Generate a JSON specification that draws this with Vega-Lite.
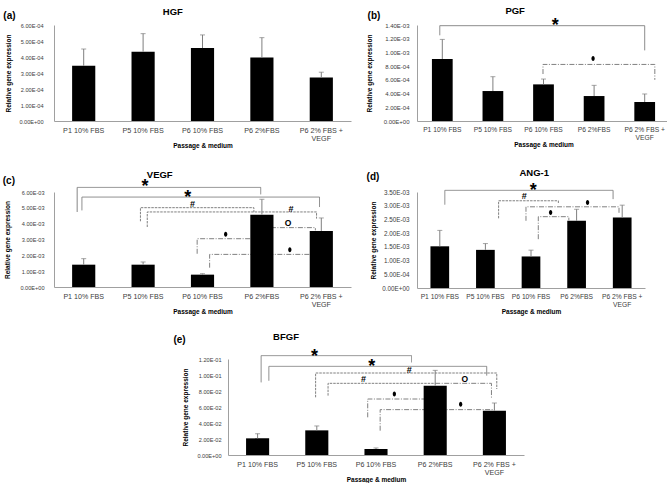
{
"$schema": "https://vega.github.io/schema/vega-lite/v6.json",
"padding": {"left": 2, "top": 5, "right": 0, "bottom": 0},
"background": "#ffffff",
"config": {
 "view": {"stroke": null},
 "font": "Liberation Sans",
 "axis": {"domainColor": "#a0a0a0", "ticks": false, "grid": false, "labelOverlap": false, "labelColor": "#404040", "titleColor": "#000000", "titleFontWeight": "bold", "titleFontSize": 6.5, "labelFont": "Liberation Sans", "titleFont": "Liberation Sans"},
 "axisX": {"labelAngle": 0, "labelPadding": 5, "labelLineHeight": 8, "titlePadding": 1, "labelBaseline": "top"},
 "axisY": {"labelOverlap": false, "labelBound": false, "labelFlush": false, "tickCount": 20}
},
"datasets": {
 "bars": [
  {"panel": "a", "label": "P1 10% FBS", "value": 0.000345, "err": 0.00045},
  {"panel": "a", "label": "P5 10% FBS", "value": 0.000433, "err": 0.000546},
  {"panel": "a", "label": "P6 10% FBS", "value": 0.000456, "err": 0.000538},
  {"panel": "a", "label": "P6 2%FBS", "value": 0.000397, "err": 0.000521},
  {"panel": "a", "label": "P6 2% FBS + VEGF", "value": 0.000272, "err": 0.000305},
  {"panel": "b", "label": "P1 10% FBS", "value": 0.000904, "err": 0.00119},
  {"panel": "b", "label": "P5 10% FBS", "value": 0.000437, "err": 0.000646},
  {"panel": "b", "label": "P6 10% FBS", "value": 0.000534, "err": 0.000612},
  {"panel": "b", "label": "P6 2%FBS", "value": 0.000364, "err": 0.00052},
  {"panel": "b", "label": "P6 2% FBS + VEGF", "value": 0.000277, "err": 0.000394},
  {"panel": "c", "label": "P1 10% FBS", "value": 0.00141, "err": 0.00179},
  {"panel": "c", "label": "P5 10% FBS", "value": 0.00141, "err": 0.00158},
  {"panel": "c", "label": "P6 10% FBS", "value": 0.00078, "err": 0.00084},
  {"panel": "c", "label": "P6 2%FBS", "value": 0.00457, "err": 0.00554},
  {"panel": "c", "label": "P6 2% FBS + VEGF", "value": 0.00354, "err": 0.00436},
  {"panel": "d", "label": "P1 10% FBS", "value": 0.00152, "err": 0.0021},
  {"panel": "d", "label": "P5 10% FBS", "value": 0.00139, "err": 0.00162},
  {"panel": "d", "label": "P6 10% FBS", "value": 0.00115, "err": 0.00138},
  {"panel": "d", "label": "P6 2%FBS", "value": 0.00245, "err": 0.00287},
  {"panel": "d", "label": "P6 2% FBS + VEGF", "value": 0.00257, "err": 0.00302},
  {"panel": "e", "label": "P1 10% FBS", "value": 0.0208, "err": 0.0267},
  {"panel": "e", "label": "P5 10% FBS", "value": 0.0308, "err": 0.0363},
  {"panel": "e", "label": "P6 10% FBS", "value": 0.0075, "err": 0.0088},
  {"panel": "e", "label": "P6 2%FBS", "value": 0.0867, "err": 0.1058},
  {"panel": "e", "label": "P6 2% FBS + VEGF", "value": 0.0554, "err": 0.065}
 ],
 "brackets": [
  {"panel": "b", "id": "b1", "style": "solid", "o": 1, "x": 0.95, "y": 0.00125},
  {"panel": "b", "id": "b1", "style": "solid", "o": 2, "x": 0.95, "y": 0.00139},
  {"panel": "b", "id": "b1", "style": "solid", "o": 3, "x": 5.0, "y": 0.00139},
  {"panel": "b", "id": "b1", "style": "solid", "o": 4, "x": 5.0, "y": 0.00103},
  {"panel": "b", "id": "b2", "style": "dashdot", "o": 1, "x": 2.99, "y": 0.000685},
  {"panel": "b", "id": "b2", "style": "dashdot", "o": 2, "x": 2.99, "y": 0.000825},
  {"panel": "b", "id": "b2", "style": "dashdot", "o": 3, "x": 5.2, "y": 0.000825},
  {"panel": "b", "id": "b2", "style": "dashdot", "o": 4, "x": 5.2, "y": 0.0006},
  {"panel": "c", "id": "c1", "style": "solid", "o": 1, "x": 0.89, "y": 0.00474},
  {"panel": "c", "id": "c1", "style": "solid", "o": 2, "x": 0.89, "y": 0.00629},
  {"panel": "c", "id": "c1", "style": "solid", "o": 3, "x": 3.98, "y": 0.00629},
  {"panel": "c", "id": "c1", "style": "solid", "o": 4, "x": 3.98, "y": 0.00585},
  {"panel": "c", "id": "c2", "style": "solid", "o": 1, "x": 0.97, "y": 0.00484},
  {"panel": "c", "id": "c2", "style": "solid", "o": 2, "x": 0.97, "y": 0.00568},
  {"panel": "c", "id": "c2", "style": "solid", "o": 3, "x": 4.97, "y": 0.00568},
  {"panel": "c", "id": "c2", "style": "solid", "o": 4, "x": 4.97, "y": 0.00505},
  {"panel": "c", "id": "c3", "style": "dashed", "o": 1, "x": 1.955, "y": 0.00415},
  {"panel": "c", "id": "c3", "style": "dashed", "o": 2, "x": 1.955, "y": 0.00501},
  {"panel": "c", "id": "c3", "style": "dashed", "o": 3, "x": 3.865, "y": 0.00501},
  {"panel": "c", "id": "c3", "style": "dashed", "o": 4, "x": 3.865, "y": 0.00474},
  {"panel": "c", "id": "c4", "style": "dashed", "o": 1, "x": 2.07, "y": 0.00379},
  {"panel": "c", "id": "c4", "style": "dashed", "o": 2, "x": 2.07, "y": 0.00474},
  {"panel": "c", "id": "c4", "style": "dashed", "o": 3, "x": 4.92, "y": 0.00474},
  {"panel": "c", "id": "c4", "style": "dashed", "o": 4, "x": 4.92, "y": 0.00432},
  {"panel": "c", "id": "c5", "style": "dashdot", "o": 1, "x": 4.0, "y": 0.00375},
  {"panel": "c", "id": "c5", "style": "dashdot", "o": 2, "x": 4.9, "y": 0.00375},
  {"panel": "c", "id": "c5", "style": "dashdot", "o": 3, "x": 4.9, "y": 0.00358},
  {"panel": "c", "id": "c6", "style": "dashdot", "o": 1, "x": 2.91, "y": 0.0021},
  {"panel": "c", "id": "c6", "style": "dashdot", "o": 2, "x": 2.91, "y": 0.00305},
  {"panel": "c", "id": "c6", "style": "dashdot", "o": 3, "x": 4.0, "y": 0.00305},
  {"panel": "c", "id": "c7", "style": "dashdot", "o": 1, "x": 3.12, "y": 0.00122},
  {"panel": "c", "id": "c7", "style": "dashdot", "o": 2, "x": 3.12, "y": 0.00206},
  {"panel": "c", "id": "c7", "style": "dashdot", "o": 3, "x": 5.0, "y": 0.00206},
  {"panel": "d", "id": "d1", "style": "solid", "o": 1, "x": 1.11, "y": 0.00304},
  {"panel": "d", "id": "d1", "style": "solid", "o": 2, "x": 1.11, "y": 0.00356},
  {"panel": "d", "id": "d1", "style": "solid", "o": 3, "x": 4.8, "y": 0.00356},
  {"panel": "d", "id": "d1", "style": "solid", "o": 4, "x": 4.8, "y": 0.00324},
  {"panel": "d", "id": "d2", "style": "dashed", "o": 1, "x": 2.29, "y": 0.00254},
  {"panel": "d", "id": "d2", "style": "dashed", "o": 2, "x": 2.29, "y": 0.00318},
  {"panel": "d", "id": "d2", "style": "dashed", "o": 3, "x": 3.6, "y": 0.00318},
  {"panel": "d", "id": "d2", "style": "dashed", "o": 4, "x": 3.6, "y": 0.00306},
  {"panel": "d", "id": "d3", "style": "dashdot", "o": 1, "x": 2.89, "y": 0.00245},
  {"panel": "d", "id": "d3", "style": "dashdot", "o": 2, "x": 2.89, "y": 0.00296},
  {"panel": "d", "id": "d3", "style": "dashdot", "o": 3, "x": 4.93, "y": 0.00296},
  {"panel": "d", "id": "d3", "style": "dashdot", "o": 4, "x": 4.93, "y": 0.00272},
  {"panel": "d", "id": "d4", "style": "dashdot", "o": 1, "x": 3.16, "y": 0.00178},
  {"panel": "d", "id": "d4", "style": "dashdot", "o": 2, "x": 3.16, "y": 0.0026},
  {"panel": "d", "id": "d4", "style": "dashdot", "o": 3, "x": 3.83, "y": 0.0026},
  {"panel": "d", "id": "d4", "style": "dashdot", "o": 4, "x": 3.83, "y": 0.00247},
  {"panel": "e", "id": "e1", "style": "solid", "o": 1, "x": 1.06, "y": 0.0908},
  {"panel": "e", "id": "e1", "style": "solid", "o": 2, "x": 1.06, "y": 0.1242},
  {"panel": "e", "id": "e1", "style": "solid", "o": 3, "x": 3.6, "y": 0.1242},
  {"panel": "e", "id": "e1", "style": "solid", "o": 4, "x": 3.6, "y": 0.1158},
  {"panel": "e", "id": "e2", "style": "solid", "o": 1, "x": 1.19, "y": 0.0929},
  {"panel": "e", "id": "e2", "style": "solid", "o": 2, "x": 1.19, "y": 0.1108},
  {"panel": "e", "id": "e2", "style": "solid", "o": 3, "x": 4.87, "y": 0.1108},
  {"panel": "e", "id": "e2", "style": "solid", "o": 4, "x": 4.87, "y": 0.0992},
  {"panel": "e", "id": "e3", "style": "dashed", "o": 1, "x": 1.98, "y": 0.0721},
  {"panel": "e", "id": "e3", "style": "dashed", "o": 2, "x": 1.98, "y": 0.1025},
  {"panel": "e", "id": "e3", "style": "dashed", "o": 3, "x": 5.04, "y": 0.1025},
  {"panel": "e", "id": "e3", "style": "dashed", "o": 4, "x": 5.04, "y": 0.0825},
  {"panel": "e", "id": "e4", "style": "dashed", "o": 1, "x": 2.19, "y": 0.0742},
  {"panel": "e", "id": "e4", "style": "dashed", "o": 2, "x": 2.19, "y": 0.0896},
  {"panel": "e", "id": "e4", "style": "dashed", "o": 3, "x": 4.0, "y": 0.0896},
  {"panel": "e", "id": "e5", "style": "dashdot", "o": 1, "x": 4.0, "y": 0.0896},
  {"panel": "e", "id": "e5", "style": "dashdot", "o": 2, "x": 4.95, "y": 0.0896},
  {"panel": "e", "id": "e5", "style": "dashdot", "o": 3, "x": 4.95, "y": 0.07},
  {"panel": "e", "id": "e6", "style": "dashdot", "o": 1, "x": 2.86, "y": 0.0471},
  {"panel": "e", "id": "e6", "style": "dashdot", "o": 2, "x": 2.86, "y": 0.07},
  {"panel": "e", "id": "e6", "style": "dashdot", "o": 3, "x": 4.0, "y": 0.07},
  {"panel": "e", "id": "e7", "style": "dashdot", "o": 1, "x": 3.07, "y": 0.0304},
  {"panel": "e", "id": "e7", "style": "dashdot", "o": 2, "x": 3.07, "y": 0.0567},
  {"panel": "e", "id": "e7", "style": "dashdot", "o": 3, "x": 5.0, "y": 0.0567}
 ],
 "notes": [
  {"panel": "a", "kind": "letter", "text": "(a)", "x": -0.25, "y": 0.000655},
  {"panel": "a", "kind": "title", "text": "HGF", "x": 2.5, "y": 0.000679},
  {"panel": "b", "kind": "letter", "text": "(b)", "x": -0.35, "y": 0.001531},
  {"panel": "b", "kind": "title", "text": "PGF", "x": 2.44, "y": 0.001608},
  {"panel": "b", "kind": "star", "text": "*", "x": 3.23, "y": 0.001458},
  {"panel": "c", "kind": "letter", "text": "(c)", "x": -0.26, "y": 0.00668},
  {"panel": "c", "kind": "title", "text": "VEGF", "x": 2.28, "y": 0.00705},
  {"panel": "c", "kind": "star", "text": "*", "x": 2.03, "y": 0.00663},
  {"panel": "c", "kind": "star", "text": "*", "x": 2.75, "y": 0.00596},
  {"panel": "c", "kind": "hash", "text": "#", "x": 2.83, "y": 0.00522},
  {"panel": "c", "kind": "hash", "text": "#", "x": 4.49, "y": 0.00495},
  {"panel": "c", "kind": "circ", "text": "O", "x": 4.44, "y": 0.00404},
  {"panel": "d", "kind": "letter", "text": "(d)", "x": -0.465, "y": 0.00404},
  {"panel": "d", "kind": "title", "text": "ANG-1", "x": 3.07, "y": 0.00418},
  {"panel": "d", "kind": "star", "text": "*", "x": 3.05, "y": 0.00371},
  {"panel": "d", "kind": "hash", "text": "#", "x": 2.85, "y": 0.00335},
  {"panel": "e", "kind": "letter", "text": "(e)", "x": -0.318, "y": 0.144},
  {"panel": "e", "kind": "title", "text": "BFGF", "x": 1.48, "y": 0.1475},
  {"panel": "e", "kind": "star", "text": "*", "x": 1.96, "y": 0.129},
  {"panel": "e", "kind": "star", "text": "*", "x": 2.93, "y": 0.1158},
  {"panel": "e", "kind": "hash", "text": "#", "x": 3.56, "y": 0.1067},
  {"panel": "e", "kind": "hash", "text": "#", "x": 2.79, "y": 0.095},
  {"panel": "e", "kind": "circ", "text": "O", "x": 4.5, "y": 0.095}
 ],
 "dots": [
  {"panel": "b", "x": 3.98, "y": 0.000913},
  {"panel": "c", "x": 3.39, "y": 0.00333},
  {"panel": "c", "x": 4.47, "y": 0.00236},
  {"panel": "d", "x": 4.24, "y": 0.00312},
  {"panel": "d", "x": 3.43, "y": 0.00275},
  {"panel": "e", "x": 3.31, "y": 0.0763},
  {"panel": "e", "x": 4.43, "y": 0.0633}
 ]
},
"vconcat": [
 {"vconcat": [
  {"hconcat": [
   {"width": 297, "height": 96,
    "layer": [
     {"data": {"name": "bars"}, "transform": [{"filter": "datum.panel == 'a'"}],
      "encoding": {"x": {"field": "label", "type": "nominal", "sort": null, "scale": {"paddingInner": 0.61, "paddingOuter": 0.305}, "title": "Passage & medium", "axis": {"labelFontSize": 7.2, "labelExpr": "datum.label == 'P6 2% FBS + VEGF' ? ['P6 2% FBS +', 'VEGF'] : datum.label"}}},
      "layer": [
       {"mark": {"type": "bar", "color": "#000000"}, "encoding": {"y": {"field": "value", "type": "quantitative", "scale": {"domain": [0, 0.0006], "nice": false}, "title": "Relative gene expression", "axis": {"values": [0, 0.0001, 0.0002, 0.0003, 0.0004, 0.0005, 0.0006], "tickCount": 20, "labelOverlap": false, "labelExpr": "replace(upper(format(datum.value, '.2e')), regexp('E(?<s>[+-])(?<d>[0-9])$'), 'E$<s>0$<d>')", "labelFontSize": 5.6, "labelPadding": 11, "titlePadding": 7}}}},
       {"mark": {"type": "rule", "color": "#7f7f7f", "strokeWidth": 1}, "encoding": {"y": {"field": "value", "type": "quantitative", "scale": {"domain": [0, 0.0006], "nice": false}, "title": "Relative gene expression"}, "y2": {"field": "err"}}},
       {"mark": {"type": "tick", "orient": "horizontal", "size": 5, "thickness": 1, "color": "#7f7f7f"}, "encoding": {"y": {"field": "err", "type": "quantitative", "scale": {"domain": [0, 0.0006], "nice": false}, "title": "Relative gene expression"}}}
      ]},
     {"data": {"name": "notes"}, "transform": [{"filter": "datum.panel == 'a' && datum.kind != 'star'"}],
      "mark": {"type": "text", "fontWeight": "bold", "baseline": "middle", "align": "center", "clip": false, "color": "#000000"},
      "encoding": {"x": {"field": "x", "type": "quantitative", "scale": {"domain": [0.5, 5.5], "nice": false, "zero": false}, "axis": null},
       "y": {"field": "y", "type": "quantitative", "scale": {"domain": [0, 0.0006], "nice": false}, "title": "Relative gene expression"},
       "text": {"field": "text"},
       "size": {"field": "kind", "type": "ordinal", "scale": {"domain": ["letter", "title", "hash", "circ"], "range": [10, 8.5, 7, 9]}, "legend": null}}}
    ],
    "resolve": {"scale": {"x": "independent"}}},
   {"width": 253, "height": 96,
    "layer": [
     {"data": {"name": "brackets"}, "transform": [{"filter": "datum.panel == 'b'"}],
      "mark": {"type": "line", "clip": false, "strokeWidth": 1, "color": "#808080"},
      "encoding": {"x": {"field": "x", "type": "quantitative", "scale": {"domain": [0.5, 5.5], "nice": false, "zero": false}, "axis": null},
       "y": {"field": "y", "type": "quantitative", "scale": {"domain": [0, 0.0014], "nice": false}, "title": "Relative gene expression"},
       "detail": {"field": "id", "type": "nominal"}, "order": {"field": "o", "type": "quantitative"},
       "strokeDash": {"field": "style", "type": "nominal", "scale": {"domain": ["solid", "dashed", "dashdot"], "range": [[1, 0], [2.5, 1], [5, 1.5, 1, 1.5]]}, "legend": null}}},
     {"data": {"name": "bars"}, "transform": [{"filter": "datum.panel == 'b'"}],
      "encoding": {"x": {"field": "label", "type": "nominal", "sort": null, "scale": {"paddingInner": 0.59, "paddingOuter": 0.295}, "title": "Passage & medium", "axis": {"labelFontSize": 6.7, "labelExpr": "datum.label == 'P6 2% FBS + VEGF' ? ['P6 2% FBS +', 'VEGF'] : datum.label"}}},
      "layer": [
       {"mark": {"type": "bar", "color": "#000000"}, "encoding": {"y": {"field": "value", "type": "quantitative", "scale": {"domain": [0, 0.0014], "nice": false}, "title": "Relative gene expression", "axis": {"values": [0, 0.0002, 0.0004, 0.0006, 0.0008, 0.001, 0.0012, 0.0014], "tickCount": 20, "labelOverlap": false, "labelExpr": "replace(upper(format(datum.value, '.2e')), regexp('E(?<s>[+-])(?<d>[0-9])$'), 'E$<s>0$<d>')", "labelFontSize": 6, "labelPadding": 8, "titlePadding": 11}}}},
       {"mark": {"type": "rule", "color": "#7f7f7f", "strokeWidth": 1}, "encoding": {"y": {"field": "value", "type": "quantitative", "scale": {"domain": [0, 0.0014], "nice": false}, "title": "Relative gene expression"}, "y2": {"field": "err"}}},
       {"mark": {"type": "tick", "orient": "horizontal", "size": 5, "thickness": 1, "color": "#7f7f7f"}, "encoding": {"y": {"field": "err", "type": "quantitative", "scale": {"domain": [0, 0.0014], "nice": false}, "title": "Relative gene expression"}}}
      ]},
     {"data": {"name": "notes"}, "transform": [{"filter": "datum.panel == 'b' && datum.kind != 'star'"}],
      "mark": {"type": "text", "fontWeight": "bold", "baseline": "middle", "align": "center", "clip": false, "color": "#000000"},
      "encoding": {"x": {"field": "x", "type": "quantitative", "scale": {"domain": [0.5, 5.5], "nice": false, "zero": false}, "axis": null},
       "y": {"field": "y", "type": "quantitative", "scale": {"domain": [0, 0.0014], "nice": false}, "title": "Relative gene expression"},
       "text": {"field": "text"},
       "size": {"field": "kind", "type": "ordinal", "scale": {"domain": ["letter", "title", "hash", "circ"], "range": [10, 8.5, 7, 9]}, "legend": null}}},
     {"data": {"name": "notes"}, "transform": [{"filter": "datum.panel == 'b' && datum.kind == 'star'"}],
      "mark": {"type": "text", "fontWeight": "bold", "fontSize": 18, "dy": 5, "baseline": "middle", "align": "center", "clip": false, "color": "#000000"},
      "encoding": {"x": {"field": "x", "type": "quantitative", "scale": {"domain": [0.5, 5.5], "nice": false, "zero": false}, "axis": null},
       "y": {"field": "y", "type": "quantitative", "scale": {"domain": [0, 0.0014], "nice": false}, "title": "Relative gene expression"},
       "text": {"field": "text"}}},
     {"data": {"name": "dots"}, "transform": [{"filter": "datum.panel == 'b'"}],
      "mark": {"type": "point", "filled": true, "color": "#000000", "opacity": 1, "size": 25, "shape": "M0,-1A0.65,1,0,1,1,0,1A0.65,1,0,1,1,0,-1Z", "clip": false},
      "encoding": {"x": {"field": "x", "type": "quantitative", "scale": {"domain": [0.5, 5.5], "nice": false, "zero": false}, "axis": null},
       "y": {"field": "y", "type": "quantitative", "scale": {"domain": [0, 0.0014], "nice": false}, "title": "Relative gene expression"}}}
    ],
    "resolve": {"scale": {"x": "independent"}}}
  ], "bounds": "flush", "spacing": 66},
  {"hconcat": [
   {"width": 297, "height": 95,
    "layer": [
     {"data": {"name": "brackets"}, "transform": [{"filter": "datum.panel == 'c'"}],
      "mark": {"type": "line", "clip": false, "strokeWidth": 1, "color": "#808080"},
      "encoding": {"x": {"field": "x", "type": "quantitative", "scale": {"domain": [0.5, 5.5], "nice": false, "zero": false}, "axis": null},
       "y": {"field": "y", "type": "quantitative", "scale": {"domain": [0, 0.006], "nice": false}, "title": "Relative gene expression"},
       "detail": {"field": "id", "type": "nominal"}, "order": {"field": "o", "type": "quantitative"},
       "strokeDash": {"field": "style", "type": "nominal", "scale": {"domain": ["solid", "dashed", "dashdot"], "range": [[1, 0], [2.5, 1], [5, 1.5, 1, 1.5]]}, "legend": null}}},
     {"data": {"name": "bars"}, "transform": [{"filter": "datum.panel == 'c'"}],
      "encoding": {"x": {"field": "label", "type": "nominal", "sort": null, "scale": {"paddingInner": 0.61, "paddingOuter": 0.305}, "title": "Passage & medium", "axis": {"labelFontSize": 7.1, "labelExpr": "datum.label == 'P6 2% FBS + VEGF' ? ['P6 2% FBS +', 'VEGF'] : datum.label"}}},
      "layer": [
       {"mark": {"type": "bar", "color": "#000000"}, "encoding": {"y": {"field": "value", "type": "quantitative", "scale": {"domain": [0, 0.006], "nice": false}, "title": "Relative gene expression", "axis": {"values": [0, 0.001, 0.002, 0.003, 0.004, 0.005, 0.006], "tickCount": 20, "labelOverlap": false, "labelExpr": "replace(upper(format(datum.value, '.2e')), regexp('E(?<s>[+-])(?<d>[0-9])$'), 'E$<s>0$<d>')", "labelFontSize": 5.6, "labelPadding": 10, "titlePadding": 9}}}},
       {"mark": {"type": "rule", "color": "#7f7f7f", "strokeWidth": 1}, "encoding": {"y": {"field": "value", "type": "quantitative", "scale": {"domain": [0, 0.006], "nice": false}, "title": "Relative gene expression"}, "y2": {"field": "err"}}},
       {"mark": {"type": "tick", "orient": "horizontal", "size": 5, "thickness": 1, "color": "#7f7f7f"}, "encoding": {"y": {"field": "err", "type": "quantitative", "scale": {"domain": [0, 0.006], "nice": false}, "title": "Relative gene expression"}}}
      ]},
     {"data": {"name": "notes"}, "transform": [{"filter": "datum.panel == 'c' && datum.kind != 'star'"}],
      "mark": {"type": "text", "fontWeight": "bold", "baseline": "middle", "align": "center", "clip": false, "color": "#000000"},
      "encoding": {"x": {"field": "x", "type": "quantitative", "scale": {"domain": [0.5, 5.5], "nice": false, "zero": false}, "axis": null},
       "y": {"field": "y", "type": "quantitative", "scale": {"domain": [0, 0.006], "nice": false}, "title": "Relative gene expression"},
       "text": {"field": "text"},
       "size": {"field": "kind", "type": "ordinal", "scale": {"domain": ["letter", "title", "hash", "circ"], "range": [10, 8.5, 7, 9]}, "legend": null}}},
     {"data": {"name": "notes"}, "transform": [{"filter": "datum.panel == 'c' && datum.kind == 'star'"}],
      "mark": {"type": "text", "fontWeight": "bold", "fontSize": 18, "dy": 5, "baseline": "middle", "align": "center", "clip": false, "color": "#000000"},
      "encoding": {"x": {"field": "x", "type": "quantitative", "scale": {"domain": [0.5, 5.5], "nice": false, "zero": false}, "axis": null},
       "y": {"field": "y", "type": "quantitative", "scale": {"domain": [0, 0.006], "nice": false}, "title": "Relative gene expression"},
       "text": {"field": "text"}}},
     {"data": {"name": "dots"}, "transform": [{"filter": "datum.panel == 'c'"}],
      "mark": {"type": "point", "filled": true, "color": "#000000", "opacity": 1, "size": 25, "shape": "M0,-1A0.65,1,0,1,1,0,1A0.65,1,0,1,1,0,-1Z", "clip": false},
      "encoding": {"x": {"field": "x", "type": "quantitative", "scale": {"domain": [0.5, 5.5], "nice": false, "zero": false}, "axis": null},
       "y": {"field": "y", "type": "quantitative", "scale": {"domain": [0, 0.006], "nice": false}, "title": "Relative gene expression"}}}
    ],
    "resolve": {"scale": {"x": "independent"}}},
   {"width": 228, "height": 96,
    "layer": [
     {"data": {"name": "brackets"}, "transform": [{"filter": "datum.panel == 'd'"}],
      "mark": {"type": "line", "clip": false, "strokeWidth": 1, "color": "#808080"},
      "encoding": {"x": {"field": "x", "type": "quantitative", "scale": {"domain": [0.5, 5.5], "nice": false, "zero": false}, "axis": null},
       "y": {"field": "y", "type": "quantitative", "scale": {"domain": [0, 0.0035], "nice": false}, "title": "Relative gene expression"},
       "detail": {"field": "id", "type": "nominal"}, "order": {"field": "o", "type": "quantitative"},
       "strokeDash": {"field": "style", "type": "nominal", "scale": {"domain": ["solid", "dashed", "dashdot"], "range": [[1, 0], [2.5, 1], [5, 1.5, 1, 1.5]]}, "legend": null}}},
     {"data": {"name": "bars"}, "transform": [{"filter": "datum.panel == 'd'"}],
      "encoding": {"x": {"field": "label", "type": "nominal", "sort": null, "scale": {"paddingInner": 0.59, "paddingOuter": 0.295}, "title": "Passage & medium", "axis": {"labelFontSize": 6.7, "labelExpr": "datum.label == 'P6 2% FBS + VEGF' ? ['P6 2% FBS +', 'VEGF'] : datum.label"}}},
      "layer": [
       {"mark": {"type": "bar", "color": "#000000"}, "encoding": {"y": {"field": "value", "type": "quantitative", "scale": {"domain": [0, 0.0035], "nice": false}, "title": "Relative gene expression", "axis": {"values": [0, 0.0005, 0.001, 0.0015, 0.002, 0.0025, 0.003, 0.0035], "tickCount": 20, "labelOverlap": false, "labelExpr": "replace(upper(format(datum.value, '.2e')), regexp('E(?<s>[+-])(?<d>[0-9])$'), 'E$<s>0$<d>')", "labelFontSize": 6.3, "labelPadding": 8, "titlePadding": 5.5}}}},
       {"mark": {"type": "rule", "color": "#7f7f7f", "strokeWidth": 1}, "encoding": {"y": {"field": "value", "type": "quantitative", "scale": {"domain": [0, 0.0035], "nice": false}, "title": "Relative gene expression"}, "y2": {"field": "err"}}},
       {"mark": {"type": "tick", "orient": "horizontal", "size": 5, "thickness": 1, "color": "#7f7f7f"}, "encoding": {"y": {"field": "err", "type": "quantitative", "scale": {"domain": [0, 0.0035], "nice": false}, "title": "Relative gene expression"}}}
      ]},
     {"data": {"name": "notes"}, "transform": [{"filter": "datum.panel == 'd' && datum.kind != 'star'"}],
      "mark": {"type": "text", "fontWeight": "bold", "baseline": "middle", "align": "center", "clip": false, "color": "#000000"},
      "encoding": {"x": {"field": "x", "type": "quantitative", "scale": {"domain": [0.5, 5.5], "nice": false, "zero": false}, "axis": null},
       "y": {"field": "y", "type": "quantitative", "scale": {"domain": [0, 0.0035], "nice": false}, "title": "Relative gene expression"},
       "text": {"field": "text"},
       "size": {"field": "kind", "type": "ordinal", "scale": {"domain": ["letter", "title", "hash", "circ"], "range": [10, 8.5, 7, 9]}, "legend": null}}},
     {"data": {"name": "notes"}, "transform": [{"filter": "datum.panel == 'd' && datum.kind == 'star'"}],
      "mark": {"type": "text", "fontWeight": "bold", "fontSize": 18, "dy": 5, "baseline": "middle", "align": "center", "clip": false, "color": "#000000"},
      "encoding": {"x": {"field": "x", "type": "quantitative", "scale": {"domain": [0.5, 5.5], "nice": false, "zero": false}, "axis": null},
       "y": {"field": "y", "type": "quantitative", "scale": {"domain": [0, 0.0035], "nice": false}, "title": "Relative gene expression"},
       "text": {"field": "text"}}},
     {"data": {"name": "dots"}, "transform": [{"filter": "datum.panel == 'd'"}],
      "mark": {"type": "point", "filled": true, "color": "#000000", "opacity": 1, "size": 25, "shape": "M0,-1A0.65,1,0,1,1,0,1A0.65,1,0,1,1,0,-1Z", "clip": false},
      "encoding": {"x": {"field": "x", "type": "quantitative", "scale": {"domain": [0.5, 5.5], "nice": false, "zero": false}, "axis": null},
       "y": {"field": "y", "type": "quantitative", "scale": {"domain": [0, 0.0035], "nice": false}, "title": "Relative gene expression"}}}
    ],
    "resolve": {"scale": {"x": "independent"}}}
  ], "bounds": "flush", "spacing": 66}
 ], "spacing": 19},
 {"hconcat": [
  {"width": 108, "height": 96, "data": {"values": []}, "mark": {"type": "point", "opacity": 0}, "encoding": {}},
  {"width": 296, "height": 96,
   "layer": [
    {"data": {"name": "brackets"}, "transform": [{"filter": "datum.panel == 'e'"}],
     "mark": {"type": "line", "clip": false, "strokeWidth": 1, "color": "#808080"},
     "encoding": {"x": {"field": "x", "type": "quantitative", "scale": {"domain": [0.5, 5.5], "nice": false, "zero": false}, "axis": null},
      "y": {"field": "y", "type": "quantitative", "scale": {"domain": [0, 0.12], "nice": false}, "title": "Relative gene expression"},
      "detail": {"field": "id", "type": "nominal"}, "order": {"field": "o", "type": "quantitative"},
      "strokeDash": {"field": "style", "type": "nominal", "scale": {"domain": ["solid", "dashed", "dashdot"], "range": [[1, 0], [2.5, 1], [5, 1.5, 1, 1.5]]}, "legend": null}}},
    {"data": {"name": "bars"}, "transform": [{"filter": "datum.panel == 'e'"}],
     "encoding": {"x": {"field": "label", "type": "nominal", "sort": null, "scale": {"paddingInner": 0.61, "paddingOuter": 0.305}, "title": "Passage & medium", "axis": {"labelFontSize": 7.1, "labelExpr": "datum.label == 'P6 2% FBS + VEGF' ? ['P6 2% FBS +', 'VEGF'] : datum.label"}}},
     "layer": [
      {"mark": {"type": "bar", "color": "#000000"}, "encoding": {"y": {"field": "value", "type": "quantitative", "scale": {"domain": [0, 0.12], "nice": false}, "title": "Relative gene expression", "axis": {"values": [0, 0.02, 0.04, 0.06, 0.08, 0.1, 0.12], "tickCount": 20, "labelOverlap": false, "labelExpr": "replace(upper(format(datum.value, '.2e')), regexp('E(?<s>[+-])(?<d>[0-9])$'), 'E$<s>0$<d>')", "labelFontSize": 5.6, "labelPadding": 7, "titlePadding": 8}}}},
      {"mark": {"type": "rule", "color": "#7f7f7f", "strokeWidth": 1}, "encoding": {"y": {"field": "value", "type": "quantitative", "scale": {"domain": [0, 0.12], "nice": false}, "title": "Relative gene expression"}, "y2": {"field": "err"}}},
      {"mark": {"type": "tick", "orient": "horizontal", "size": 5, "thickness": 1, "color": "#7f7f7f"}, "encoding": {"y": {"field": "err", "type": "quantitative", "scale": {"domain": [0, 0.12], "nice": false}, "title": "Relative gene expression"}}}
     ]},
    {"data": {"name": "notes"}, "transform": [{"filter": "datum.panel == 'e' && datum.kind != 'star'"}],
     "mark": {"type": "text", "fontWeight": "bold", "baseline": "middle", "align": "center", "clip": false, "color": "#000000"},
     "encoding": {"x": {"field": "x", "type": "quantitative", "scale": {"domain": [0.5, 5.5], "nice": false, "zero": false}, "axis": null},
      "y": {"field": "y", "type": "quantitative", "scale": {"domain": [0, 0.12], "nice": false}, "title": "Relative gene expression"},
      "text": {"field": "text"},
      "size": {"field": "kind", "type": "ordinal", "scale": {"domain": ["letter", "title", "hash", "circ"], "range": [10, 8.5, 7, 9]}, "legend": null}}},
    {"data": {"name": "notes"}, "transform": [{"filter": "datum.panel == 'e' && datum.kind == 'star'"}],
     "mark": {"type": "text", "fontWeight": "bold", "fontSize": 18, "dy": 5, "baseline": "middle", "align": "center", "clip": false, "color": "#000000"},
     "encoding": {"x": {"field": "x", "type": "quantitative", "scale": {"domain": [0.5, 5.5], "nice": false, "zero": false}, "axis": null},
      "y": {"field": "y", "type": "quantitative", "scale": {"domain": [0, 0.12], "nice": false}, "title": "Relative gene expression"},
      "text": {"field": "text"}}},
    {"data": {"name": "dots"}, "transform": [{"filter": "datum.panel == 'e'"}],
     "mark": {"type": "point", "filled": true, "color": "#000000", "opacity": 1, "size": 25, "shape": "M0,-1A0.65,1,0,1,1,0,1A0.65,1,0,1,1,0,-1Z", "clip": false},
     "encoding": {"x": {"field": "x", "type": "quantitative", "scale": {"domain": [0.5, 5.5], "nice": false, "zero": false}, "axis": null},
      "y": {"field": "y", "type": "quantitative", "scale": {"domain": [0, 0.12], "nice": false}, "title": "Relative gene expression"}}}
   ],
   "resolve": {"scale": {"x": "independent"}}}
 ], "bounds": "flush", "spacing": 66}
], "spacing": 15
}
